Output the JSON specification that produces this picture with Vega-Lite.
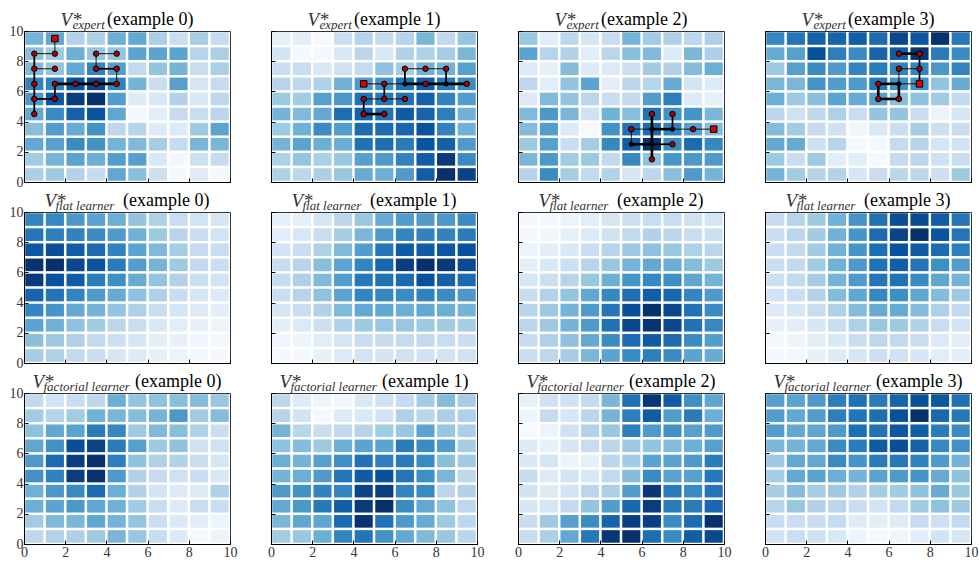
{"$schema":"https://vega.github.io/schema/vega-lite/v6.json","padding":{"left":8,"top":9,"right":0,"bottom":4},"background":"white","columns":4,"spacing":{"row":30,"column":41},"bounds":"flush","align":"all",
"config":{"view":{"stroke":"#333","strokeWidth":1},"title":{"font":"Liberation Serif","fontSize":18,"fontWeight":"normal","color":"#000","anchor":"start","frame":"group","offset":-19},"axis":{"grid":false,"domain":true,"domainColor":"#000","tickColor":"#000","tickSize":-4,"labelPadding":5,"labelFont":"Liberation Serif","labelFontSize":14,"labelColor":"#333","labelFlush":false,"labelOverlap":false,"titleFontWeight":"normal","titleFontStyle":"italic","titleFont":"Liberation Serif","titleColor":"#333","titlePadding":0,"titleAngle":0,"titleAlign":"left","titleBaseline":"alphabetic"},"rect":{"width":18.1,"height":12.6},"rule":{"color":"#000"},"point":{"filled":true,"stroke":"#000","strokeWidth":1,"opacity":1}},
"datasets":{
"p00":[{"x":0.5,"y":9.5,"v":3.8},{"x":1.5,"y":9.5,"v":4.2},{"x":2.5,"y":9.5,"v":2.5},{"x":3.5,"y":9.5,"v":2.6},{"x":4.5,"y":9.5,"v":4},{"x":5.5,"y":9.5,"v":4.2},{"x":6.5,"y":9.5,"v":2.7},{"x":7.5,"y":9.5,"v":1.8},{"x":8.5,"y":9.5,"v":2.8},{"x":9.5,"y":9.5,"v":2},{"x":0.5,"y":8.5,"v":3.4},{"x":1.5,"y":8.5,"v":3},{"x":2.5,"y":8.5,"v":4},{"x":3.5,"y":8.5,"v":3.2},{"x":4.5,"y":8.5,"v":3.2},{"x":5.5,"y":8.5,"v":4.4},{"x":6.5,"y":8.5,"v":4.4},{"x":7.5,"y":8.5,"v":4.4},{"x":8.5,"y":8.5,"v":2.4},{"x":9.5,"y":8.5,"v":2.7},{"x":0.5,"y":7.5,"v":3.6},{"x":1.5,"y":7.5,"v":3.2},{"x":2.5,"y":7.5,"v":4.2},{"x":3.5,"y":7.5,"v":5.5},{"x":4.5,"y":7.5,"v":4.6},{"x":5.5,"y":7.5,"v":2.1},{"x":6.5,"y":7.5,"v":3.2},{"x":7.5,"y":7.5,"v":3.8},{"x":8.5,"y":7.5,"v":1.9},{"x":9.5,"y":7.5,"v":2.7},{"x":0.5,"y":6.5,"v":5.5},{"x":1.5,"y":6.5,"v":5.5},{"x":2.5,"y":6.5,"v":7},{"x":3.5,"y":6.5,"v":7.3},{"x":4.5,"y":6.5,"v":5.5},{"x":5.5,"y":6.5,"v":3.8},{"x":6.5,"y":6.5,"v":1.8},{"x":7.5,"y":6.5,"v":4.5},{"x":8.5,"y":6.5,"v":1.3},{"x":9.5,"y":6.5,"v":2},{"x":0.5,"y":5.5,"v":4.8},{"x":1.5,"y":5.5,"v":6.8},{"x":2.5,"y":5.5,"v":7.6},{"x":3.5,"y":5.5,"v":8},{"x":4.5,"y":5.5,"v":4.6},{"x":5.5,"y":5.5,"v":1},{"x":6.5,"y":5.5,"v":1.2},{"x":7.5,"y":5.5,"v":2.5},{"x":8.5,"y":5.5,"v":1.2},{"x":9.5,"y":5.5,"v":2.2},{"x":0.5,"y":4.5,"v":4.2},{"x":1.5,"y":4.5,"v":5.2},{"x":2.5,"y":4.5,"v":6.5},{"x":3.5,"y":4.5,"v":6.9},{"x":4.5,"y":4.5,"v":4.3},{"x":5.5,"y":4.5,"v":0.2},{"x":6.5,"y":4.5,"v":0.9},{"x":7.5,"y":4.5,"v":2},{"x":8.5,"y":4.5,"v":1.9},{"x":9.5,"y":4.5,"v":2.3},{"x":0.5,"y":3.5,"v":3.4},{"x":1.5,"y":3.5,"v":4.6},{"x":2.5,"y":3.5,"v":4.1},{"x":3.5,"y":3.5,"v":5},{"x":4.5,"y":3.5,"v":2.2},{"x":5.5,"y":3.5,"v":2.4},{"x":6.5,"y":3.5,"v":1},{"x":7.5,"y":3.5,"v":1.1},{"x":8.5,"y":3.5,"v":3},{"x":9.5,"y":3.5,"v":4.4},{"x":0.5,"y":2.5,"v":4.2},{"x":1.5,"y":2.5,"v":4.5},{"x":2.5,"y":2.5,"v":5.2},{"x":3.5,"y":2.5,"v":5},{"x":4.5,"y":2.5,"v":3.8},{"x":5.5,"y":2.5,"v":3.6},{"x":6.5,"y":2.5,"v":2.8},{"x":7.5,"y":2.5,"v":2},{"x":8.5,"y":2.5,"v":3.7},{"x":9.5,"y":2.5,"v":3.7},{"x":0.5,"y":1.5,"v":2.9},{"x":1.5,"y":1.5,"v":3.8},{"x":2.5,"y":1.5,"v":4.4},{"x":3.5,"y":1.5,"v":4},{"x":4.5,"y":1.5,"v":4.6},{"x":5.5,"y":1.5,"v":4.5},{"x":6.5,"y":1.5,"v":1.2},{"x":7.5,"y":1.5,"v":0.2},{"x":8.5,"y":1.5,"v":1.7},{"x":9.5,"y":1.5,"v":2},{"x":0.5,"y":0.5,"v":2.7},{"x":1.5,"y":0.5,"v":3},{"x":2.5,"y":0.5,"v":2.5},{"x":3.5,"y":0.5,"v":2},{"x":4.5,"y":0.5,"v":4.3},{"x":5.5,"y":0.5,"v":3.4},{"x":6.5,"y":0.5,"v":1.7},{"x":7.5,"y":0.5,"v":0.1},{"x":8.5,"y":0.5,"v":1},{"x":9.5,"y":0.5,"v":0.1}],
"p01":[{"x":0.5,"y":9.5,"v":0.7},{"x":1.5,"y":9.5,"v":0.8},{"x":2.5,"y":9.5,"v":0.1},{"x":3.5,"y":9.5,"v":1.8},{"x":4.5,"y":9.5,"v":2.4},{"x":5.5,"y":9.5,"v":2},{"x":6.5,"y":9.5,"v":2.4},{"x":7.5,"y":9.5,"v":3.7},{"x":8.5,"y":9.5,"v":2.1},{"x":9.5,"y":9.5,"v":3.2},{"x":0.5,"y":8.5,"v":1.5},{"x":1.5,"y":8.5,"v":0.1},{"x":2.5,"y":8.5,"v":0.2},{"x":3.5,"y":8.5,"v":1.2},{"x":4.5,"y":8.5,"v":2.3},{"x":5.5,"y":8.5,"v":1.2},{"x":6.5,"y":8.5,"v":2.5},{"x":7.5,"y":8.5,"v":2.6},{"x":8.5,"y":8.5,"v":2.8},{"x":9.5,"y":8.5,"v":3.7},{"x":0.5,"y":7.5,"v":1.8},{"x":1.5,"y":7.5,"v":1.8},{"x":2.5,"y":7.5,"v":1.2},{"x":3.5,"y":7.5,"v":1.6},{"x":4.5,"y":7.5,"v":2},{"x":5.5,"y":7.5,"v":3.3},{"x":6.5,"y":7.5,"v":2.9},{"x":7.5,"y":7.5,"v":3.9},{"x":8.5,"y":7.5,"v":3.9},{"x":9.5,"y":7.5,"v":4.5},{"x":0.5,"y":6.5,"v":2.4},{"x":1.5,"y":6.5,"v":2.2},{"x":2.5,"y":6.5,"v":2.6},{"x":3.5,"y":6.5,"v":3.9},{"x":4.5,"y":6.5,"v":4.7},{"x":5.5,"y":6.5,"v":5},{"x":6.5,"y":6.5,"v":6},{"x":7.5,"y":6.5,"v":6.6},{"x":8.5,"y":6.5,"v":5.8},{"x":9.5,"y":6.5,"v":5.2},{"x":0.5,"y":5.5,"v":3},{"x":1.5,"y":5.5,"v":2.9},{"x":2.5,"y":5.5,"v":4.5},{"x":3.5,"y":5.5,"v":4.8},{"x":4.5,"y":5.5,"v":6},{"x":5.5,"y":5.5,"v":5.8},{"x":6.5,"y":5.5,"v":6},{"x":7.5,"y":5.5,"v":6.5},{"x":8.5,"y":5.5,"v":5.5},{"x":9.5,"y":5.5,"v":4.6},{"x":0.5,"y":4.5,"v":3.8},{"x":1.5,"y":4.5,"v":3.6},{"x":2.5,"y":4.5,"v":4.2},{"x":3.5,"y":4.5,"v":6.1},{"x":4.5,"y":4.5,"v":6.5},{"x":5.5,"y":4.5,"v":6},{"x":6.5,"y":4.5,"v":6.7},{"x":7.5,"y":4.5,"v":6.4},{"x":8.5,"y":4.5,"v":5.6},{"x":9.5,"y":4.5,"v":3.9},{"x":0.5,"y":3.5,"v":3},{"x":1.5,"y":3.5,"v":3.9},{"x":2.5,"y":3.5,"v":5.2},{"x":3.5,"y":3.5,"v":4.6},{"x":4.5,"y":3.5,"v":6.2},{"x":5.5,"y":3.5,"v":6.2},{"x":6.5,"y":3.5,"v":6.3},{"x":7.5,"y":3.5,"v":6.9},{"x":8.5,"y":3.5,"v":5.5},{"x":9.5,"y":3.5,"v":3.9},{"x":0.5,"y":2.5,"v":3.8},{"x":1.5,"y":2.5,"v":4.4},{"x":2.5,"y":2.5,"v":4},{"x":3.5,"y":2.5,"v":4},{"x":4.5,"y":2.5,"v":6},{"x":5.5,"y":2.5,"v":6.1},{"x":6.5,"y":2.5,"v":5.7},{"x":7.5,"y":2.5,"v":6.9},{"x":8.5,"y":2.5,"v":6.5},{"x":9.5,"y":2.5,"v":4.7},{"x":0.5,"y":1.5,"v":2.6},{"x":1.5,"y":1.5,"v":3.2},{"x":2.5,"y":1.5,"v":2.7},{"x":3.5,"y":1.5,"v":3.1},{"x":4.5,"y":1.5,"v":4.5},{"x":5.5,"y":1.5,"v":4.7},{"x":6.5,"y":1.5,"v":5.5},{"x":7.5,"y":1.5,"v":6.6},{"x":8.5,"y":1.5,"v":7.7},{"x":9.5,"y":1.5,"v":5.2},{"x":0.5,"y":0.5,"v":2.6},{"x":1.5,"y":0.5,"v":2.2},{"x":2.5,"y":0.5,"v":2.7},{"x":3.5,"y":0.5,"v":3.1},{"x":4.5,"y":0.5,"v":4.1},{"x":5.5,"y":0.5,"v":4},{"x":6.5,"y":0.5,"v":4.7},{"x":7.5,"y":0.5,"v":6.6},{"x":8.5,"y":0.5,"v":8},{"x":9.5,"y":0.5,"v":7.4}],
"p02":[{"x":0.5,"y":9.5,"v":3.1},{"x":1.5,"y":9.5,"v":0.9},{"x":2.5,"y":9.5,"v":2.2},{"x":3.5,"y":9.5,"v":1.3},{"x":4.5,"y":9.5,"v":1.9},{"x":5.5,"y":9.5,"v":3.8},{"x":6.5,"y":9.5,"v":2.9},{"x":7.5,"y":9.5,"v":2.6},{"x":8.5,"y":9.5,"v":2.2},{"x":9.5,"y":9.5,"v":2.6},{"x":0.5,"y":8.5,"v":4.4},{"x":1.5,"y":8.5,"v":2.4},{"x":2.5,"y":8.5,"v":2.5},{"x":3.5,"y":8.5,"v":0.9},{"x":4.5,"y":8.5,"v":2.3},{"x":5.5,"y":8.5,"v":3.4},{"x":6.5,"y":8.5,"v":3.6},{"x":7.5,"y":8.5,"v":1.1},{"x":8.5,"y":8.5,"v":3.7},{"x":9.5,"y":8.5,"v":2.7},{"x":0.5,"y":7.5,"v":1.1},{"x":1.5,"y":7.5,"v":0.7},{"x":2.5,"y":7.5,"v":3.5},{"x":3.5,"y":7.5,"v":1},{"x":4.5,"y":7.5,"v":1.1},{"x":5.5,"y":7.5,"v":1.7},{"x":6.5,"y":7.5,"v":2.9},{"x":7.5,"y":7.5,"v":2.5},{"x":8.5,"y":7.5,"v":3.5},{"x":9.5,"y":7.5,"v":4},{"x":0.5,"y":6.5,"v":2.2},{"x":1.5,"y":6.5,"v":0.9},{"x":2.5,"y":6.5,"v":3.2},{"x":3.5,"y":6.5,"v":4.4},{"x":4.5,"y":6.5,"v":0.8},{"x":5.5,"y":6.5,"v":2.3},{"x":6.5,"y":6.5,"v":2.4},{"x":7.5,"y":6.5,"v":4.1},{"x":8.5,"y":6.5,"v":1.5},{"x":9.5,"y":6.5,"v":1.1},{"x":0.5,"y":5.5,"v":1.1},{"x":1.5,"y":5.5,"v":3.6},{"x":2.5,"y":5.5,"v":3.2},{"x":3.5,"y":5.5,"v":2.3},{"x":4.5,"y":5.5,"v":1.8},{"x":5.5,"y":5.5,"v":2.1},{"x":6.5,"y":5.5,"v":4.6},{"x":7.5,"y":5.5,"v":5.6},{"x":8.5,"y":5.5,"v":1},{"x":9.5,"y":5.5,"v":0.7},{"x":0.5,"y":4.5,"v":3.6},{"x":1.5,"y":4.5,"v":4.8},{"x":2.5,"y":4.5,"v":3.7},{"x":3.5,"y":4.5,"v":1.6},{"x":4.5,"y":4.5,"v":3.9},{"x":5.5,"y":4.5,"v":3.4},{"x":6.5,"y":4.5,"v":6},{"x":7.5,"y":4.5,"v":5},{"x":8.5,"y":4.5,"v":4.9},{"x":9.5,"y":4.5,"v":3.7},{"x":0.5,"y":3.5,"v":3.5},{"x":1.5,"y":3.5,"v":4.6},{"x":2.5,"y":3.5,"v":1.1},{"x":3.5,"y":3.5,"v":0.1},{"x":4.5,"y":3.5,"v":5},{"x":5.5,"y":3.5,"v":6},{"x":6.5,"y":3.5,"v":6.2},{"x":7.5,"y":3.5,"v":5.5},{"x":8.5,"y":3.5,"v":4.5},{"x":9.5,"y":3.5,"v":3.5},{"x":0.5,"y":2.5,"v":3},{"x":1.5,"y":2.5,"v":4.5},{"x":2.5,"y":2.5,"v":1.9},{"x":3.5,"y":2.5,"v":2.8},{"x":4.5,"y":2.5,"v":5.3},{"x":5.5,"y":2.5,"v":6.6},{"x":6.5,"y":2.5,"v":8},{"x":7.5,"y":2.5,"v":5.2},{"x":8.5,"y":2.5,"v":6.2},{"x":9.5,"y":2.5,"v":5.3},{"x":0.5,"y":1.5,"v":3.7},{"x":1.5,"y":1.5,"v":4.8},{"x":2.5,"y":1.5,"v":2.9},{"x":3.5,"y":1.5,"v":3},{"x":4.5,"y":1.5,"v":2.1},{"x":5.5,"y":1.5,"v":5.3},{"x":6.5,"y":1.5,"v":3.3},{"x":7.5,"y":1.5,"v":4.9},{"x":8.5,"y":1.5,"v":4.8},{"x":9.5,"y":1.5,"v":4.7},{"x":0.5,"y":0.5,"v":2.4},{"x":1.5,"y":0.5,"v":5.2},{"x":2.5,"y":0.5,"v":2.8},{"x":3.5,"y":0.5,"v":2.1},{"x":4.5,"y":0.5,"v":2.5},{"x":5.5,"y":0.5,"v":1.3},{"x":6.5,"y":0.5,"v":2.2},{"x":7.5,"y":0.5,"v":3.4},{"x":8.5,"y":0.5,"v":4.7},{"x":9.5,"y":0.5,"v":3.8}],
"p03":[{"x":0.5,"y":9.5,"v":5.3},{"x":1.5,"y":9.5,"v":5.9},{"x":2.5,"y":9.5,"v":6.5},{"x":3.5,"y":9.5,"v":6.4},{"x":4.5,"y":9.5,"v":6.6},{"x":5.5,"y":9.5,"v":6.2},{"x":6.5,"y":9.5,"v":7.3},{"x":7.5,"y":9.5,"v":6.8},{"x":8.5,"y":9.5,"v":7.9},{"x":9.5,"y":9.5,"v":5.8},{"x":0.5,"y":8.5,"v":4.1},{"x":1.5,"y":8.5,"v":4.5},{"x":2.5,"y":8.5,"v":7},{"x":3.5,"y":8.5,"v":5.6},{"x":4.5,"y":8.5,"v":5.2},{"x":5.5,"y":8.5,"v":6.4},{"x":6.5,"y":8.5,"v":6.7},{"x":7.5,"y":8.5,"v":7.9},{"x":8.5,"y":8.5,"v":5.7},{"x":9.5,"y":8.5,"v":5.2},{"x":0.5,"y":7.5,"v":3},{"x":1.5,"y":7.5,"v":4.5},{"x":2.5,"y":7.5,"v":5.2},{"x":3.5,"y":7.5,"v":4.7},{"x":4.5,"y":7.5,"v":5.4},{"x":5.5,"y":7.5,"v":5.7},{"x":6.5,"y":7.5,"v":5.5},{"x":7.5,"y":7.5,"v":5.4},{"x":8.5,"y":7.5,"v":4.8},{"x":9.5,"y":7.5,"v":5.4},{"x":0.5,"y":6.5,"v":3.7},{"x":1.5,"y":6.5,"v":3.7},{"x":2.5,"y":6.5,"v":4.9},{"x":3.5,"y":6.5,"v":4.6},{"x":4.5,"y":6.5,"v":4.7},{"x":5.5,"y":6.5,"v":5.8},{"x":6.5,"y":6.5,"v":5},{"x":7.5,"y":6.5,"v":5},{"x":8.5,"y":6.5,"v":3.2},{"x":9.5,"y":6.5,"v":4.1},{"x":0.5,"y":5.5,"v":4},{"x":1.5,"y":5.5,"v":3},{"x":2.5,"y":5.5,"v":3.4},{"x":3.5,"y":5.5,"v":4.4},{"x":4.5,"y":5.5,"v":4.1},{"x":5.5,"y":5.5,"v":4.5},{"x":6.5,"y":5.5,"v":3.4},{"x":7.5,"y":5.5,"v":3.3},{"x":8.5,"y":5.5,"v":2.9},{"x":9.5,"y":5.5,"v":2.1},{"x":0.5,"y":4.5,"v":2.3},{"x":1.5,"y":4.5,"v":1.6},{"x":2.5,"y":4.5,"v":2.2},{"x":3.5,"y":4.5,"v":2.6},{"x":4.5,"y":4.5,"v":1.9},{"x":5.5,"y":4.5,"v":3.2},{"x":6.5,"y":4.5,"v":3.2},{"x":7.5,"y":4.5,"v":1.9},{"x":8.5,"y":4.5,"v":0.5},{"x":9.5,"y":4.5,"v":1.3},{"x":0.5,"y":3.5,"v":3.5},{"x":1.5,"y":3.5,"v":2.9},{"x":2.5,"y":3.5,"v":2},{"x":3.5,"y":3.5,"v":1.6},{"x":4.5,"y":3.5,"v":0.3},{"x":5.5,"y":3.5,"v":1.2},{"x":6.5,"y":3.5,"v":1.8},{"x":7.5,"y":3.5,"v":2.8},{"x":8.5,"y":3.5,"v":1.7},{"x":9.5,"y":3.5,"v":1.9},{"x":0.5,"y":2.5,"v":4.2},{"x":1.5,"y":2.5,"v":4.1},{"x":2.5,"y":2.5,"v":1.7},{"x":3.5,"y":2.5,"v":2.4},{"x":4.5,"y":2.5,"v":0.1},{"x":5.5,"y":2.5,"v":0.2},{"x":6.5,"y":2.5,"v":2},{"x":7.5,"y":2.5,"v":2.4},{"x":8.5,"y":2.5,"v":1.4},{"x":9.5,"y":2.5,"v":1.5},{"x":0.5,"y":1.5,"v":3},{"x":1.5,"y":1.5,"v":1.9},{"x":2.5,"y":1.5,"v":3},{"x":3.5,"y":1.5,"v":0.9},{"x":4.5,"y":1.5,"v":0.9},{"x":5.5,"y":1.5,"v":0.1},{"x":6.5,"y":1.5,"v":2},{"x":7.5,"y":1.5,"v":2.2},{"x":8.5,"y":1.5,"v":1.6},{"x":9.5,"y":1.5,"v":1.9},{"x":0.5,"y":0.5,"v":3.8},{"x":1.5,"y":0.5,"v":2.9},{"x":2.5,"y":0.5,"v":2.4},{"x":3.5,"y":0.5,"v":2.5},{"x":4.5,"y":0.5,"v":1.3},{"x":5.5,"y":0.5,"v":1.9},{"x":6.5,"y":0.5,"v":2.3},{"x":7.5,"y":0.5,"v":2.2},{"x":8.5,"y":0.5,"v":1.7},{"x":9.5,"y":0.5,"v":3}],
"p10":[{"x":0.5,"y":9.5,"v":5.4},{"x":1.5,"y":9.5,"v":5.3},{"x":2.5,"y":9.5,"v":4.8},{"x":3.5,"y":9.5,"v":4.4},{"x":4.5,"y":9.5,"v":4},{"x":5.5,"y":9.5,"v":3.2},{"x":6.5,"y":9.5,"v":2.6},{"x":7.5,"y":9.5,"v":1.9},{"x":8.5,"y":9.5,"v":1.5},{"x":9.5,"y":9.5,"v":1.4},{"x":0.5,"y":8.5,"v":5.9},{"x":1.5,"y":8.5,"v":5.6},{"x":2.5,"y":8.5,"v":5.5},{"x":3.5,"y":8.5,"v":5.2},{"x":4.5,"y":8.5,"v":4.7},{"x":5.5,"y":8.5,"v":3.9},{"x":6.5,"y":8.5,"v":3},{"x":7.5,"y":8.5,"v":2.4},{"x":8.5,"y":8.5,"v":1.9},{"x":9.5,"y":8.5,"v":1.5},{"x":0.5,"y":7.5,"v":6.8},{"x":1.5,"y":7.5,"v":7.1},{"x":2.5,"y":7.5,"v":6.6},{"x":3.5,"y":7.5,"v":6.2},{"x":4.5,"y":7.5,"v":5.5},{"x":5.5,"y":7.5,"v":4.4},{"x":6.5,"y":7.5,"v":3.6},{"x":7.5,"y":7.5,"v":2.8},{"x":8.5,"y":7.5,"v":2},{"x":9.5,"y":7.5,"v":1.9},{"x":0.5,"y":6.5,"v":7.9},{"x":1.5,"y":6.5,"v":8},{"x":2.5,"y":6.5,"v":7.3},{"x":3.5,"y":6.5,"v":6.9},{"x":4.5,"y":6.5,"v":5.7},{"x":5.5,"y":6.5,"v":4.6},{"x":6.5,"y":6.5,"v":3.8},{"x":7.5,"y":6.5,"v":3},{"x":8.5,"y":6.5,"v":2.1},{"x":9.5,"y":6.5,"v":1.8},{"x":0.5,"y":5.5,"v":7.7},{"x":1.5,"y":5.5,"v":7},{"x":2.5,"y":5.5,"v":6.7},{"x":3.5,"y":5.5,"v":5.7},{"x":4.5,"y":5.5,"v":5.1},{"x":5.5,"y":5.5,"v":4.1},{"x":6.5,"y":5.5,"v":3.2},{"x":7.5,"y":5.5,"v":2.5},{"x":8.5,"y":5.5,"v":1.8},{"x":9.5,"y":5.5,"v":1.5},{"x":0.5,"y":4.5,"v":6.4},{"x":1.5,"y":4.5,"v":5.9},{"x":2.5,"y":4.5,"v":5.4},{"x":3.5,"y":4.5,"v":4.7},{"x":4.5,"y":4.5,"v":4.1},{"x":5.5,"y":4.5,"v":3.3},{"x":6.5,"y":4.5,"v":2.6},{"x":7.5,"y":4.5,"v":1.9},{"x":8.5,"y":4.5,"v":1.4},{"x":9.5,"y":4.5,"v":1.1},{"x":0.5,"y":3.5,"v":5.4},{"x":1.5,"y":3.5,"v":4.9},{"x":2.5,"y":3.5,"v":4.2},{"x":3.5,"y":3.5,"v":3.8},{"x":4.5,"y":3.5,"v":3.2},{"x":5.5,"y":3.5,"v":2.6},{"x":6.5,"y":3.5,"v":1.9},{"x":7.5,"y":3.5,"v":1.4},{"x":8.5,"y":3.5,"v":1},{"x":9.5,"y":3.5,"v":0.8},{"x":0.5,"y":2.5,"v":4.4},{"x":1.5,"y":2.5,"v":3.9},{"x":2.5,"y":2.5,"v":3.3},{"x":3.5,"y":2.5,"v":2.9},{"x":4.5,"y":2.5,"v":2.3},{"x":5.5,"y":2.5,"v":1.9},{"x":6.5,"y":2.5,"v":1.2},{"x":7.5,"y":2.5,"v":0.9},{"x":8.5,"y":2.5,"v":0.6},{"x":9.5,"y":2.5,"v":0.4},{"x":0.5,"y":1.5,"v":3.4},{"x":1.5,"y":1.5,"v":3},{"x":2.5,"y":1.5,"v":2.6},{"x":3.5,"y":1.5,"v":2.1},{"x":4.5,"y":1.5,"v":1.7},{"x":5.5,"y":1.5,"v":1.3},{"x":6.5,"y":1.5,"v":0.8},{"x":7.5,"y":1.5,"v":0.6},{"x":8.5,"y":1.5,"v":0.3},{"x":9.5,"y":1.5,"v":0.2},{"x":0.5,"y":0.5,"v":2.8},{"x":1.5,"y":0.5,"v":2.6},{"x":2.5,"y":0.5,"v":2.1},{"x":3.5,"y":0.5,"v":1.8},{"x":4.5,"y":0.5,"v":1.3},{"x":5.5,"y":0.5,"v":1},{"x":6.5,"y":0.5,"v":0.6},{"x":7.5,"y":0.5,"v":0.5},{"x":8.5,"y":0.5,"v":0.2},{"x":9.5,"y":0.5,"v":0.1}],
"p11":[{"x":0.5,"y":9.5,"v":0.7},{"x":1.5,"y":9.5,"v":0.7},{"x":2.5,"y":9.5,"v":1.4},{"x":3.5,"y":9.5,"v":2.3},{"x":4.5,"y":9.5,"v":3.1},{"x":5.5,"y":9.5,"v":4.1},{"x":6.5,"y":9.5,"v":4.6},{"x":7.5,"y":9.5,"v":4.7},{"x":8.5,"y":9.5,"v":4.8},{"x":9.5,"y":9.5,"v":5.2},{"x":0.5,"y":8.5,"v":0.9},{"x":1.5,"y":8.5,"v":1.2},{"x":2.5,"y":8.5,"v":1.9},{"x":3.5,"y":8.5,"v":2.8},{"x":4.5,"y":8.5,"v":3.7},{"x":5.5,"y":8.5,"v":4.7},{"x":6.5,"y":8.5,"v":5.4},{"x":7.5,"y":8.5,"v":5.5},{"x":8.5,"y":8.5,"v":5.5},{"x":9.5,"y":8.5,"v":5.7},{"x":0.5,"y":7.5,"v":1.5},{"x":1.5,"y":7.5,"v":1.8},{"x":2.5,"y":7.5,"v":2.6},{"x":3.5,"y":7.5,"v":3.6},{"x":4.5,"y":7.5,"v":4.6},{"x":5.5,"y":7.5,"v":5.9},{"x":6.5,"y":7.5,"v":6.7},{"x":7.5,"y":7.5,"v":6.7},{"x":8.5,"y":7.5,"v":6.8},{"x":9.5,"y":7.5,"v":7},{"x":0.5,"y":6.5,"v":1.9},{"x":1.5,"y":6.5,"v":2.4},{"x":2.5,"y":6.5,"v":3.4},{"x":3.5,"y":6.5,"v":4.4},{"x":4.5,"y":6.5,"v":5.4},{"x":5.5,"y":6.5,"v":6.3},{"x":6.5,"y":6.5,"v":7.6},{"x":7.5,"y":6.5,"v":8},{"x":8.5,"y":6.5,"v":7.7},{"x":9.5,"y":6.5,"v":7.2},{"x":0.5,"y":5.5,"v":2},{"x":1.5,"y":5.5,"v":2.6},{"x":2.5,"y":5.5,"v":3.6},{"x":3.5,"y":5.5,"v":4.6},{"x":4.5,"y":5.5,"v":5.8},{"x":5.5,"y":5.5,"v":6},{"x":6.5,"y":5.5,"v":6.2},{"x":7.5,"y":5.5,"v":7},{"x":8.5,"y":5.5,"v":6.5},{"x":9.5,"y":5.5,"v":6.2},{"x":0.5,"y":4.5,"v":1.8},{"x":1.5,"y":4.5,"v":2.4},{"x":2.5,"y":4.5,"v":3.3},{"x":3.5,"y":4.5,"v":4.4},{"x":4.5,"y":4.5,"v":5.4},{"x":5.5,"y":4.5,"v":5.3},{"x":6.5,"y":4.5,"v":5.2},{"x":7.5,"y":4.5,"v":5.5},{"x":8.5,"y":4.5,"v":5.2},{"x":9.5,"y":4.5,"v":4.8},{"x":0.5,"y":3.5,"v":1.4},{"x":1.5,"y":3.5,"v":1.8},{"x":2.5,"y":3.5,"v":2.5},{"x":3.5,"y":3.5,"v":3.6},{"x":4.5,"y":3.5,"v":4.2},{"x":5.5,"y":3.5,"v":4.3},{"x":6.5,"y":3.5,"v":4},{"x":7.5,"y":3.5,"v":4.2},{"x":8.5,"y":3.5,"v":4},{"x":9.5,"y":3.5,"v":3.8},{"x":0.5,"y":2.5,"v":0.8},{"x":1.5,"y":2.5,"v":1.1},{"x":2.5,"y":2.5,"v":1.7},{"x":3.5,"y":2.5,"v":2.5},{"x":4.5,"y":2.5,"v":3},{"x":5.5,"y":2.5,"v":3.1},{"x":6.5,"y":2.5,"v":3.1},{"x":7.5,"y":2.5,"v":3},{"x":8.5,"y":2.5,"v":2.9},{"x":9.5,"y":2.5,"v":2.8},{"x":0.5,"y":1.5,"v":0.3},{"x":1.5,"y":1.5,"v":0.4},{"x":2.5,"y":1.5,"v":0.9},{"x":3.5,"y":1.5,"v":1.4},{"x":4.5,"y":1.5,"v":1.9},{"x":5.5,"y":1.5,"v":2},{"x":6.5,"y":1.5,"v":2},{"x":7.5,"y":1.5,"v":2.1},{"x":8.5,"y":1.5,"v":1.9},{"x":9.5,"y":1.5,"v":1.8},{"x":0.5,"y":0.5,"v":0.1},{"x":1.5,"y":0.5,"v":0.1},{"x":2.5,"y":0.5,"v":0.6},{"x":3.5,"y":0.5,"v":1.1},{"x":4.5,"y":0.5,"v":1.5},{"x":5.5,"y":0.5,"v":1.5},{"x":6.5,"y":0.5,"v":1.6},{"x":7.5,"y":0.5,"v":1.6},{"x":8.5,"y":0.5,"v":1.5},{"x":9.5,"y":0.5,"v":1.6}],
"p12":[{"x":0.5,"y":9.5,"v":0.1},{"x":1.5,"y":9.5,"v":0.2},{"x":2.5,"y":9.5,"v":0.5},{"x":3.5,"y":9.5,"v":0.9},{"x":4.5,"y":9.5,"v":1.4},{"x":5.5,"y":9.5,"v":1.7},{"x":6.5,"y":9.5,"v":1.9},{"x":7.5,"y":9.5,"v":1.9},{"x":8.5,"y":9.5,"v":1.6},{"x":9.5,"y":9.5,"v":1.4},{"x":0.5,"y":8.5,"v":0.1},{"x":1.5,"y":8.5,"v":0.3},{"x":2.5,"y":8.5,"v":0.7},{"x":3.5,"y":8.5,"v":1.1},{"x":4.5,"y":8.5,"v":1.6},{"x":5.5,"y":8.5,"v":2.1},{"x":6.5,"y":8.5,"v":2.5},{"x":7.5,"y":8.5,"v":2.3},{"x":8.5,"y":8.5,"v":1.9},{"x":9.5,"y":8.5,"v":1.7},{"x":0.5,"y":7.5,"v":0.5},{"x":1.5,"y":7.5,"v":0.8},{"x":2.5,"y":7.5,"v":1.2},{"x":3.5,"y":7.5,"v":1.8},{"x":4.5,"y":7.5,"v":2.4},{"x":5.5,"y":7.5,"v":3},{"x":6.5,"y":7.5,"v":3.3},{"x":7.5,"y":7.5,"v":3.1},{"x":8.5,"y":7.5,"v":2.6},{"x":9.5,"y":7.5,"v":2.3},{"x":0.5,"y":6.5,"v":0.8},{"x":1.5,"y":6.5,"v":1.2},{"x":2.5,"y":6.5,"v":1.7},{"x":3.5,"y":6.5,"v":2.4},{"x":4.5,"y":6.5,"v":3.1},{"x":5.5,"y":6.5,"v":3.8},{"x":6.5,"y":6.5,"v":4.2},{"x":7.5,"y":6.5,"v":4},{"x":8.5,"y":6.5,"v":3.5},{"x":9.5,"y":6.5,"v":3},{"x":0.5,"y":5.5,"v":1.3},{"x":1.5,"y":5.5,"v":1.7},{"x":2.5,"y":5.5,"v":2.4},{"x":3.5,"y":5.5,"v":3.1},{"x":4.5,"y":5.5,"v":4},{"x":5.5,"y":5.5,"v":4.9},{"x":6.5,"y":5.5,"v":5.3},{"x":7.5,"y":5.5,"v":5.1},{"x":8.5,"y":5.5,"v":4.3},{"x":9.5,"y":5.5,"v":3.8},{"x":0.5,"y":4.5,"v":1.9},{"x":1.5,"y":4.5,"v":2.5},{"x":2.5,"y":4.5,"v":3.2},{"x":3.5,"y":4.5,"v":4.2},{"x":4.5,"y":4.5,"v":5.3},{"x":5.5,"y":4.5,"v":6.1},{"x":6.5,"y":4.5,"v":6.6},{"x":7.5,"y":4.5,"v":6.3},{"x":8.5,"y":4.5,"v":5.4},{"x":9.5,"y":4.5,"v":4.7},{"x":0.5,"y":3.5,"v":2.4},{"x":1.5,"y":3.5,"v":3},{"x":2.5,"y":3.5,"v":3.8},{"x":3.5,"y":3.5,"v":4.7},{"x":4.5,"y":3.5,"v":5.9},{"x":5.5,"y":3.5,"v":7.1},{"x":6.5,"y":3.5,"v":8},{"x":7.5,"y":3.5,"v":7.3},{"x":8.5,"y":3.5,"v":6},{"x":9.5,"y":3.5,"v":5.2},{"x":0.5,"y":2.5,"v":2.3},{"x":1.5,"y":2.5,"v":3},{"x":2.5,"y":2.5,"v":3.8},{"x":3.5,"y":2.5,"v":4.7},{"x":4.5,"y":2.5,"v":6},{"x":5.5,"y":2.5,"v":7.3},{"x":6.5,"y":2.5,"v":7.9},{"x":7.5,"y":2.5,"v":7.3},{"x":8.5,"y":2.5,"v":6},{"x":9.5,"y":2.5,"v":5.3},{"x":0.5,"y":1.5,"v":2},{"x":1.5,"y":1.5,"v":2.6},{"x":2.5,"y":1.5,"v":3.3},{"x":3.5,"y":1.5,"v":4.2},{"x":4.5,"y":1.5,"v":5.2},{"x":5.5,"y":1.5,"v":6.2},{"x":6.5,"y":1.5,"v":6.7},{"x":7.5,"y":1.5,"v":6.2},{"x":8.5,"y":1.5,"v":5.2},{"x":9.5,"y":1.5,"v":4.6},{"x":0.5,"y":0.5,"v":1.9},{"x":1.5,"y":0.5,"v":2.2},{"x":2.5,"y":0.5,"v":2.8},{"x":3.5,"y":0.5,"v":3.7},{"x":4.5,"y":0.5,"v":4.4},{"x":5.5,"y":0.5,"v":5.2},{"x":6.5,"y":0.5,"v":5.6},{"x":7.5,"y":0.5,"v":5.2},{"x":8.5,"y":0.5,"v":4.4},{"x":9.5,"y":0.5,"v":4.1}],
"p13":[{"x":0.5,"y":9.5,"v":2},{"x":1.5,"y":9.5,"v":2.4},{"x":2.5,"y":9.5,"v":3},{"x":3.5,"y":9.5,"v":3.9},{"x":4.5,"y":9.5,"v":4.9},{"x":5.5,"y":9.5,"v":6},{"x":6.5,"y":9.5,"v":7.1},{"x":7.5,"y":9.5,"v":7.2},{"x":8.5,"y":9.5,"v":6.6},{"x":9.5,"y":9.5,"v":5.9},{"x":0.5,"y":8.5,"v":1.8},{"x":1.5,"y":8.5,"v":2.3},{"x":2.5,"y":8.5,"v":2.9},{"x":3.5,"y":8.5,"v":3.9},{"x":4.5,"y":8.5,"v":4.9},{"x":5.5,"y":8.5,"v":6.2},{"x":6.5,"y":8.5,"v":7.4},{"x":7.5,"y":8.5,"v":8},{"x":8.5,"y":8.5,"v":6.9},{"x":9.5,"y":8.5,"v":5.9},{"x":0.5,"y":7.5,"v":1.8},{"x":1.5,"y":7.5,"v":2.1},{"x":2.5,"y":7.5,"v":2.9},{"x":3.5,"y":7.5,"v":3.9},{"x":4.5,"y":7.5,"v":4.9},{"x":5.5,"y":7.5,"v":6.1},{"x":6.5,"y":7.5,"v":7},{"x":7.5,"y":7.5,"v":6.7},{"x":8.5,"y":7.5,"v":6.2},{"x":9.5,"y":7.5,"v":5.6},{"x":0.5,"y":6.5,"v":1.8},{"x":1.5,"y":6.5,"v":2.1},{"x":2.5,"y":6.5,"v":2.9},{"x":3.5,"y":6.5,"v":3.9},{"x":4.5,"y":6.5,"v":4.8},{"x":5.5,"y":6.5,"v":6},{"x":6.5,"y":6.5,"v":6.6},{"x":7.5,"y":6.5,"v":5.9},{"x":8.5,"y":6.5,"v":5.1},{"x":9.5,"y":6.5,"v":4.6},{"x":0.5,"y":5.5,"v":1.7},{"x":1.5,"y":5.5,"v":2.1},{"x":2.5,"y":5.5,"v":2.8},{"x":3.5,"y":5.5,"v":3.8},{"x":4.5,"y":5.5,"v":4.7},{"x":5.5,"y":5.5,"v":5.9},{"x":6.5,"y":5.5,"v":6},{"x":7.5,"y":5.5,"v":5.2},{"x":8.5,"y":5.5,"v":4.3},{"x":9.5,"y":5.5,"v":3.8},{"x":0.5,"y":4.5,"v":1.5},{"x":1.5,"y":4.5,"v":1.8},{"x":2.5,"y":4.5,"v":2.5},{"x":3.5,"y":4.5,"v":3.5},{"x":4.5,"y":4.5,"v":4.3},{"x":5.5,"y":4.5,"v":5.3},{"x":6.5,"y":4.5,"v":5.1},{"x":7.5,"y":4.5,"v":4.3},{"x":8.5,"y":4.5,"v":3.5},{"x":9.5,"y":4.5,"v":3},{"x":0.5,"y":3.5,"v":1},{"x":1.5,"y":3.5,"v":1.3},{"x":2.5,"y":3.5,"v":1.9},{"x":3.5,"y":3.5,"v":2.6},{"x":4.5,"y":3.5,"v":3.5},{"x":5.5,"y":3.5,"v":4.1},{"x":6.5,"y":3.5,"v":4.1},{"x":7.5,"y":3.5,"v":3.5},{"x":8.5,"y":3.5,"v":2.6},{"x":9.5,"y":3.5,"v":2.1},{"x":0.5,"y":2.5,"v":0.6},{"x":1.5,"y":2.5,"v":0.8},{"x":2.5,"y":2.5,"v":1.3},{"x":3.5,"y":2.5,"v":1.9},{"x":4.5,"y":2.5,"v":2.6},{"x":5.5,"y":2.5,"v":3.1},{"x":6.5,"y":2.5,"v":3},{"x":7.5,"y":2.5,"v":2.5},{"x":8.5,"y":2.5,"v":1.9},{"x":9.5,"y":2.5,"v":1.5},{"x":0.5,"y":1.5,"v":0.2},{"x":1.5,"y":1.5,"v":0.4},{"x":2.5,"y":1.5,"v":0.8},{"x":3.5,"y":1.5,"v":1.2},{"x":4.5,"y":1.5,"v":1.8},{"x":5.5,"y":1.5,"v":2.2},{"x":6.5,"y":1.5,"v":2.1},{"x":7.5,"y":1.5,"v":1.8},{"x":8.5,"y":1.5,"v":1.1},{"x":9.5,"y":1.5,"v":0.9},{"x":0.5,"y":0.5,"v":0.1},{"x":1.5,"y":0.5,"v":0.2},{"x":2.5,"y":0.5,"v":0.6},{"x":3.5,"y":0.5,"v":1},{"x":4.5,"y":0.5,"v":1.4},{"x":5.5,"y":0.5,"v":1.7},{"x":6.5,"y":0.5,"v":1.6},{"x":7.5,"y":0.5,"v":1.3},{"x":8.5,"y":0.5,"v":0.9},{"x":9.5,"y":0.5,"v":0.8}],
"p20":[{"x":0.5,"y":9.5,"v":2.1},{"x":1.5,"y":9.5,"v":1.5},{"x":2.5,"y":9.5,"v":1.9},{"x":3.5,"y":9.5,"v":2.2},{"x":4.5,"y":9.5,"v":4},{"x":5.5,"y":9.5,"v":3.2},{"x":6.5,"y":9.5,"v":3.3},{"x":7.5,"y":9.5,"v":3.4},{"x":8.5,"y":9.5,"v":3.5},{"x":9.5,"y":9.5,"v":3.1},{"x":0.5,"y":8.5,"v":2.9},{"x":1.5,"y":8.5,"v":2.4},{"x":2.5,"y":8.5,"v":2.9},{"x":3.5,"y":8.5,"v":3.9},{"x":4.5,"y":8.5,"v":3.7},{"x":5.5,"y":8.5,"v":3.5},{"x":6.5,"y":8.5,"v":3.8},{"x":7.5,"y":8.5,"v":4.8},{"x":8.5,"y":8.5,"v":2.9},{"x":9.5,"y":8.5,"v":3.5},{"x":0.5,"y":7.5,"v":3.3},{"x":1.5,"y":7.5,"v":4.2},{"x":2.5,"y":7.5,"v":4.4},{"x":3.5,"y":7.5,"v":5.7},{"x":4.5,"y":7.5,"v":5.3},{"x":5.5,"y":7.5,"v":3},{"x":6.5,"y":7.5,"v":3.6},{"x":7.5,"y":7.5,"v":3.4},{"x":8.5,"y":7.5,"v":2.6},{"x":9.5,"y":7.5,"v":1.8},{"x":0.5,"y":6.5,"v":4.3},{"x":1.5,"y":6.5,"v":5},{"x":2.5,"y":6.5,"v":7.1},{"x":3.5,"y":6.5,"v":7.4},{"x":4.5,"y":6.5,"v":5.7},{"x":5.5,"y":6.5,"v":4.5},{"x":6.5,"y":6.5,"v":3},{"x":7.5,"y":6.5,"v":3.3},{"x":8.5,"y":6.5,"v":1.6},{"x":9.5,"y":6.5,"v":1.6},{"x":0.5,"y":5.5,"v":4.7},{"x":1.5,"y":5.5,"v":6.2},{"x":2.5,"y":5.5,"v":7.6},{"x":3.5,"y":5.5,"v":8},{"x":4.5,"y":5.5,"v":5.6},{"x":5.5,"y":5.5,"v":3.3},{"x":6.5,"y":5.5,"v":2.6},{"x":7.5,"y":5.5,"v":2.5},{"x":8.5,"y":5.5,"v":1.8},{"x":9.5,"y":5.5,"v":1.4},{"x":0.5,"y":4.5,"v":5},{"x":1.5,"y":4.5,"v":5.5},{"x":2.5,"y":4.5,"v":7.6},{"x":3.5,"y":4.5,"v":7.9},{"x":4.5,"y":4.5,"v":4.7},{"x":5.5,"y":4.5,"v":2.5},{"x":6.5,"y":4.5,"v":2},{"x":7.5,"y":4.5,"v":1.6},{"x":8.5,"y":4.5,"v":1.8},{"x":9.5,"y":4.5,"v":1.2},{"x":0.5,"y":3.5,"v":3.9},{"x":1.5,"y":3.5,"v":4.8},{"x":2.5,"y":3.5,"v":5.2},{"x":3.5,"y":3.5,"v":6.2},{"x":4.5,"y":3.5,"v":4},{"x":5.5,"y":3.5,"v":2.5},{"x":6.5,"y":3.5,"v":1.5},{"x":7.5,"y":3.5,"v":1},{"x":8.5,"y":3.5,"v":1.1},{"x":9.5,"y":3.5,"v":2.6},{"x":0.5,"y":2.5,"v":4},{"x":1.5,"y":2.5,"v":4.4},{"x":2.5,"y":2.5,"v":4.8},{"x":3.5,"y":2.5,"v":4.3},{"x":4.5,"y":2.5,"v":3.9},{"x":5.5,"y":2.5,"v":2.9},{"x":6.5,"y":2.5,"v":1.9},{"x":7.5,"y":2.5,"v":1},{"x":8.5,"y":2.5,"v":1.9},{"x":9.5,"y":2.5,"v":1.8},{"x":0.5,"y":1.5,"v":2.9},{"x":1.5,"y":1.5,"v":3.6},{"x":2.5,"y":1.5,"v":3.7},{"x":3.5,"y":1.5,"v":4.3},{"x":4.5,"y":1.5,"v":3.8},{"x":5.5,"y":1.5,"v":3.2},{"x":6.5,"y":1.5,"v":1.8},{"x":7.5,"y":1.5,"v":1.1},{"x":8.5,"y":1.5,"v":0.9},{"x":9.5,"y":1.5,"v":0.4},{"x":0.5,"y":0.5,"v":2.2},{"x":1.5,"y":0.5,"v":2.5},{"x":2.5,"y":0.5,"v":2.6},{"x":3.5,"y":0.5,"v":3},{"x":4.5,"y":0.5,"v":3.7},{"x":5.5,"y":0.5,"v":3.1},{"x":6.5,"y":0.5,"v":1.9},{"x":7.5,"y":0.5,"v":1.1},{"x":8.5,"y":0.5,"v":0.1},{"x":9.5,"y":0.5,"v":0.5}],
"p21":[{"x":0.5,"y":9.5,"v":2.2},{"x":1.5,"y":9.5,"v":1},{"x":2.5,"y":9.5,"v":0.4},{"x":3.5,"y":9.5,"v":0.3},{"x":4.5,"y":9.5,"v":1.2},{"x":5.5,"y":9.5,"v":1.6},{"x":6.5,"y":9.5,"v":2},{"x":7.5,"y":9.5,"v":2.9},{"x":8.5,"y":9.5,"v":3.5},{"x":9.5,"y":9.5,"v":2.8},{"x":0.5,"y":8.5,"v":2.4},{"x":1.5,"y":8.5,"v":1.5},{"x":2.5,"y":8.5,"v":0.1},{"x":3.5,"y":8.5,"v":1},{"x":4.5,"y":8.5,"v":1.2},{"x":5.5,"y":8.5,"v":1.5},{"x":6.5,"y":8.5,"v":2.6},{"x":7.5,"y":8.5,"v":2.3},{"x":8.5,"y":8.5,"v":2.7},{"x":9.5,"y":8.5,"v":2.6},{"x":0.5,"y":7.5,"v":3.8},{"x":1.5,"y":7.5,"v":2.3},{"x":2.5,"y":7.5,"v":1.9},{"x":3.5,"y":7.5,"v":2.1},{"x":4.5,"y":7.5,"v":2.4},{"x":5.5,"y":7.5,"v":2.9},{"x":6.5,"y":7.5,"v":3.1},{"x":7.5,"y":7.5,"v":4.4},{"x":8.5,"y":7.5,"v":3.1},{"x":9.5,"y":7.5,"v":2.7},{"x":0.5,"y":6.5,"v":3.3},{"x":1.5,"y":6.5,"v":3.5},{"x":2.5,"y":6.5,"v":3},{"x":3.5,"y":6.5,"v":4},{"x":4.5,"y":6.5,"v":4.4},{"x":5.5,"y":6.5,"v":4.4},{"x":6.5,"y":6.5,"v":5.7},{"x":7.5,"y":6.5,"v":5.2},{"x":8.5,"y":6.5,"v":4.7},{"x":9.5,"y":6.5,"v":2.8},{"x":0.5,"y":5.5,"v":4},{"x":1.5,"y":5.5,"v":3.8},{"x":2.5,"y":5.5,"v":4.5},{"x":3.5,"y":5.5,"v":5.1},{"x":4.5,"y":5.5,"v":6},{"x":5.5,"y":5.5,"v":5.6},{"x":6.5,"y":5.5,"v":5.7},{"x":7.5,"y":5.5,"v":5.2},{"x":8.5,"y":5.5,"v":3.4},{"x":9.5,"y":5.5,"v":2.9},{"x":0.5,"y":4.5,"v":3.8},{"x":1.5,"y":4.5,"v":4},{"x":2.5,"y":4.5,"v":4.7},{"x":3.5,"y":4.5,"v":5.9},{"x":4.5,"y":4.5,"v":6.7},{"x":5.5,"y":4.5,"v":7},{"x":6.5,"y":4.5,"v":5.9},{"x":7.5,"y":4.5,"v":5.1},{"x":8.5,"y":4.5,"v":3.7},{"x":9.5,"y":4.5,"v":2.2},{"x":0.5,"y":3.5,"v":4.7},{"x":1.5,"y":3.5,"v":5},{"x":2.5,"y":3.5,"v":5.5},{"x":3.5,"y":3.5,"v":5.4},{"x":4.5,"y":3.5,"v":7.4},{"x":5.5,"y":3.5,"v":7.6},{"x":6.5,"y":3.5,"v":5.4},{"x":7.5,"y":3.5,"v":5.2},{"x":8.5,"y":3.5,"v":2.3},{"x":9.5,"y":3.5,"v":2.5},{"x":0.5,"y":2.5,"v":4.2},{"x":1.5,"y":2.5,"v":4.8},{"x":2.5,"y":2.5,"v":5.8},{"x":3.5,"y":2.5,"v":6.6},{"x":4.5,"y":2.5,"v":7.7},{"x":5.5,"y":2.5,"v":8},{"x":6.5,"y":2.5,"v":5.2},{"x":7.5,"y":2.5,"v":4.2},{"x":8.5,"y":2.5,"v":3.3},{"x":9.5,"y":2.5,"v":2.2},{"x":0.5,"y":1.5,"v":3.7},{"x":1.5,"y":1.5,"v":4.3},{"x":2.5,"y":1.5,"v":4.3},{"x":3.5,"y":1.5,"v":6.2},{"x":4.5,"y":1.5,"v":7.9},{"x":5.5,"y":1.5,"v":6},{"x":6.5,"y":1.5,"v":4.7},{"x":7.5,"y":1.5,"v":4.1},{"x":8.5,"y":1.5,"v":3},{"x":9.5,"y":1.5,"v":2.2},{"x":0.5,"y":0.5,"v":2.9},{"x":1.5,"y":0.5,"v":3.1},{"x":2.5,"y":0.5,"v":4},{"x":3.5,"y":0.5,"v":5.4},{"x":4.5,"y":0.5,"v":5.9},{"x":5.5,"y":0.5,"v":5},{"x":6.5,"y":0.5,"v":4.2},{"x":7.5,"y":0.5,"v":3.6},{"x":8.5,"y":0.5,"v":3.1},{"x":9.5,"y":0.5,"v":2.3}],
"p22":[{"x":0.5,"y":9.5,"v":0.7},{"x":1.5,"y":9.5,"v":1.6},{"x":2.5,"y":9.5,"v":1.6},{"x":3.5,"y":9.5,"v":2},{"x":4.5,"y":9.5,"v":3.7},{"x":5.5,"y":9.5,"v":6},{"x":6.5,"y":9.5,"v":7.8},{"x":7.5,"y":9.5,"v":6.7},{"x":8.5,"y":9.5,"v":5.1},{"x":9.5,"y":9.5,"v":4.3},{"x":0.5,"y":8.5,"v":0.4},{"x":1.5,"y":8.5,"v":2},{"x":2.5,"y":8.5,"v":1.3},{"x":3.5,"y":8.5,"v":2.3},{"x":4.5,"y":8.5,"v":3.8},{"x":5.5,"y":8.5,"v":5.6},{"x":6.5,"y":8.5,"v":6.7},{"x":7.5,"y":8.5,"v":4.6},{"x":8.5,"y":8.5,"v":5.7},{"x":9.5,"y":8.5,"v":4},{"x":0.5,"y":7.5,"v":0.1},{"x":1.5,"y":7.5,"v":0.5},{"x":2.5,"y":7.5,"v":1.6},{"x":3.5,"y":7.5,"v":2.5},{"x":4.5,"y":7.5,"v":3.1},{"x":5.5,"y":7.5,"v":5.6},{"x":6.5,"y":7.5,"v":4.7},{"x":7.5,"y":7.5,"v":5},{"x":8.5,"y":7.5,"v":4.5},{"x":9.5,"y":7.5,"v":4.7},{"x":0.5,"y":6.5,"v":1},{"x":1.5,"y":6.5,"v":0.6},{"x":2.5,"y":6.5,"v":1.3},{"x":3.5,"y":6.5,"v":1.9},{"x":4.5,"y":6.5,"v":2.3},{"x":5.5,"y":6.5,"v":3},{"x":6.5,"y":6.5,"v":3.2},{"x":7.5,"y":6.5,"v":3.5},{"x":8.5,"y":6.5,"v":4},{"x":9.5,"y":6.5,"v":4.5},{"x":0.5,"y":5.5,"v":1.2},{"x":1.5,"y":5.5,"v":1.4},{"x":2.5,"y":5.5,"v":0.4},{"x":3.5,"y":5.5,"v":0.7},{"x":4.5,"y":5.5,"v":2.3},{"x":5.5,"y":5.5,"v":2.9},{"x":6.5,"y":5.5,"v":4.4},{"x":7.5,"y":5.5,"v":4.4},{"x":8.5,"y":5.5,"v":4.7},{"x":9.5,"y":5.5,"v":5.7},{"x":0.5,"y":4.5,"v":2},{"x":1.5,"y":4.5,"v":1},{"x":2.5,"y":4.5,"v":1.5},{"x":3.5,"y":4.5,"v":1.2},{"x":4.5,"y":4.5,"v":2.1},{"x":5.5,"y":4.5,"v":3.5},{"x":6.5,"y":4.5,"v":5.2},{"x":7.5,"y":4.5,"v":4.4},{"x":8.5,"y":4.5,"v":4.5},{"x":9.5,"y":4.5,"v":5.8},{"x":0.5,"y":3.5,"v":1.6},{"x":1.5,"y":3.5,"v":1},{"x":2.5,"y":3.5,"v":1.5},{"x":3.5,"y":3.5,"v":2.3},{"x":4.5,"y":3.5,"v":2.7},{"x":5.5,"y":3.5,"v":4.6},{"x":6.5,"y":3.5,"v":7.8},{"x":7.5,"y":3.5,"v":5.7},{"x":8.5,"y":3.5,"v":5.2},{"x":9.5,"y":3.5,"v":5.9},{"x":0.5,"y":2.5,"v":1.3},{"x":1.5,"y":2.5,"v":1.4},{"x":2.5,"y":2.5,"v":2.1},{"x":3.5,"y":2.5,"v":3.2},{"x":4.5,"y":2.5,"v":4.6},{"x":5.5,"y":2.5,"v":6.3},{"x":6.5,"y":2.5,"v":7.6},{"x":7.5,"y":2.5,"v":5.7},{"x":8.5,"y":2.5,"v":5.7},{"x":9.5,"y":2.5,"v":6.3},{"x":0.5,"y":1.5,"v":1.9},{"x":1.5,"y":1.5,"v":3},{"x":2.5,"y":1.5,"v":4.5},{"x":3.5,"y":1.5,"v":5.2},{"x":4.5,"y":1.5,"v":6.4},{"x":5.5,"y":1.5,"v":7.5},{"x":6.5,"y":1.5,"v":7.5},{"x":7.5,"y":1.5,"v":5.2},{"x":8.5,"y":1.5,"v":6.2},{"x":9.5,"y":1.5,"v":8},{"x":0.5,"y":0.5,"v":1.9},{"x":1.5,"y":0.5,"v":2.7},{"x":2.5,"y":0.5,"v":4.2},{"x":3.5,"y":0.5,"v":5.8},{"x":4.5,"y":0.5,"v":7.8},{"x":5.5,"y":0.5,"v":8},{"x":6.5,"y":0.5,"v":6.1},{"x":7.5,"y":0.5,"v":5.2},{"x":8.5,"y":0.5,"v":6.6},{"x":9.5,"y":0.5,"v":7.3}],
"p23":[{"x":0.5,"y":9.5,"v":4.5},{"x":1.5,"y":9.5,"v":4.4},{"x":2.5,"y":9.5,"v":4.7},{"x":3.5,"y":9.5,"v":5.6},{"x":4.5,"y":9.5,"v":6},{"x":5.5,"y":9.5,"v":5.7},{"x":6.5,"y":9.5,"v":6.4},{"x":7.5,"y":9.5,"v":7},{"x":8.5,"y":9.5,"v":6.8},{"x":9.5,"y":9.5,"v":6},{"x":0.5,"y":8.5,"v":4.6},{"x":1.5,"y":8.5,"v":4.2},{"x":2.5,"y":8.5,"v":4.6},{"x":3.5,"y":8.5,"v":5.6},{"x":4.5,"y":8.5,"v":5.9},{"x":5.5,"y":8.5,"v":6.1},{"x":6.5,"y":8.5,"v":7},{"x":7.5,"y":8.5,"v":8},{"x":8.5,"y":8.5,"v":6.3},{"x":9.5,"y":8.5,"v":5.8},{"x":0.5,"y":7.5,"v":4.6},{"x":1.5,"y":7.5,"v":4.2},{"x":2.5,"y":7.5,"v":4.3},{"x":3.5,"y":7.5,"v":4.7},{"x":4.5,"y":7.5,"v":6.1},{"x":5.5,"y":7.5,"v":6},{"x":6.5,"y":7.5,"v":6.8},{"x":7.5,"y":7.5,"v":6.6},{"x":8.5,"y":7.5,"v":5.7},{"x":9.5,"y":7.5,"v":5.2},{"x":0.5,"y":6.5,"v":3.7},{"x":1.5,"y":6.5,"v":3.8},{"x":2.5,"y":6.5,"v":4.2},{"x":3.5,"y":6.5,"v":5.2},{"x":4.5,"y":6.5,"v":5.7},{"x":5.5,"y":6.5,"v":6.7},{"x":6.5,"y":6.5,"v":7.1},{"x":7.5,"y":6.5,"v":6.5},{"x":8.5,"y":6.5,"v":5.3},{"x":9.5,"y":6.5,"v":5},{"x":0.5,"y":5.5,"v":3},{"x":1.5,"y":5.5,"v":4.2},{"x":2.5,"y":5.5,"v":4.2},{"x":3.5,"y":5.5,"v":5.2},{"x":4.5,"y":5.5,"v":4.9},{"x":5.5,"y":5.5,"v":5.7},{"x":6.5,"y":5.5,"v":5.8},{"x":7.5,"y":5.5,"v":5.5},{"x":8.5,"y":5.5,"v":4.7},{"x":9.5,"y":5.5,"v":3.8},{"x":0.5,"y":4.5,"v":2.8},{"x":1.5,"y":4.5,"v":4.2},{"x":2.5,"y":4.5,"v":4.4},{"x":3.5,"y":4.5,"v":4},{"x":4.5,"y":4.5,"v":3.8},{"x":5.5,"y":4.5,"v":4.4},{"x":6.5,"y":4.5,"v":4.7},{"x":7.5,"y":4.5,"v":4.9},{"x":8.5,"y":4.5,"v":4.1},{"x":9.5,"y":4.5,"v":3.3},{"x":0.5,"y":3.5,"v":2.8},{"x":1.5,"y":3.5,"v":3.5},{"x":2.5,"y":3.5,"v":2.8},{"x":3.5,"y":3.5,"v":3},{"x":4.5,"y":3.5,"v":2.5},{"x":5.5,"y":3.5,"v":2.8},{"x":6.5,"y":3.5,"v":2.9},{"x":7.5,"y":3.5,"v":3.3},{"x":8.5,"y":3.5,"v":4.1},{"x":9.5,"y":3.5,"v":3.1},{"x":0.5,"y":2.5,"v":2.4},{"x":1.5,"y":2.5,"v":3.1},{"x":2.5,"y":2.5,"v":2.5},{"x":3.5,"y":2.5,"v":2.3},{"x":4.5,"y":2.5,"v":1.8},{"x":5.5,"y":2.5,"v":1.5},{"x":6.5,"y":2.5,"v":2.1},{"x":7.5,"y":2.5,"v":2.9},{"x":8.5,"y":2.5,"v":3.3},{"x":9.5,"y":2.5,"v":3},{"x":0.5,"y":1.5,"v":1.9},{"x":1.5,"y":1.5,"v":1.8},{"x":2.5,"y":1.5,"v":1.9},{"x":3.5,"y":1.5,"v":2},{"x":4.5,"y":1.5,"v":1},{"x":5.5,"y":1.5,"v":0.9},{"x":6.5,"y":1.5,"v":1},{"x":7.5,"y":1.5,"v":2},{"x":8.5,"y":1.5,"v":1.7},{"x":9.5,"y":1.5,"v":2.1},{"x":0.5,"y":0.5,"v":1.5},{"x":1.5,"y":0.5,"v":1.8},{"x":2.5,"y":0.5,"v":1.6},{"x":3.5,"y":0.5,"v":1.2},{"x":4.5,"y":0.5,"v":0.5},{"x":5.5,"y":0.5,"v":0.1},{"x":6.5,"y":0.5,"v":0.4},{"x":7.5,"y":0.5,"v":0.9},{"x":8.5,"y":0.5,"v":1.5},{"x":9.5,"y":0.5,"v":1.3}],
"s0":[{"x":1.5,"y":9.5,"x2":1.5,"y2":8.5,"n":1},{"x":1.5,"y":8.5,"x2":0.5,"y2":8.5,"n":1},{"x":0.5,"y":8.5,"x2":0.5,"y2":7.5,"n":2},{"x":0.5,"y":7.5,"x2":1.5,"y2":7.5,"n":1},{"x":0.5,"y":7.5,"x2":0.5,"y2":5.5,"n":2},{"x":0.5,"y":5.5,"x2":1.5,"y2":5.5,"n":2},{"x":0.5,"y":5.5,"x2":0.5,"y2":4.5,"n":2},{"x":1.5,"y":5.5,"x2":1.5,"y2":6.5,"n":2},{"x":1.5,"y":6.5,"x2":4.5,"y2":6.5,"n":3},{"x":4.5,"y":6.5,"x2":4.5,"y2":7.5,"n":1},{"x":4.5,"y":7.5,"x2":3.5,"y2":7.5,"n":2},{"x":3.5,"y":7.5,"x2":3.5,"y2":8.5,"n":1},{"x":3.5,"y":8.5,"x2":4.5,"y2":8.5,"n":1}],
"s1":[{"x":4.5,"y":6.5,"x2":6.5,"y2":6.5,"n":1},{"x":6.5,"y":6.5,"x2":9.5,"y2":6.5,"n":3},{"x":6.5,"y":6.5,"x2":6.5,"y2":7.5,"n":2},{"x":6.5,"y":7.5,"x2":8.5,"y2":7.5,"n":1},{"x":8.5,"y":7.5,"x2":8.5,"y2":6.5,"n":2},{"x":5.5,"y":6.5,"x2":5.5,"y2":5.5,"n":2},{"x":4.5,"y":5.5,"x2":6.5,"y2":5.5,"n":1},{"x":4.5,"y":5.5,"x2":4.5,"y2":4.5,"n":2},{"x":4.5,"y":4.5,"x2":5.5,"y2":4.5,"n":3}],
"s2":[{"x":9.5,"y":3.5,"x2":7.5,"y2":3.5,"n":1},{"x":7.5,"y":3.5,"x2":6.5,"y2":3.5,"n":3},{"x":6.5,"y":3.5,"x2":5.5,"y2":3.5,"n":1},{"x":5.5,"y":3.5,"x2":5.5,"y2":2.5,"n":1},{"x":5.5,"y":2.5,"x2":6.5,"y2":2.5,"n":3},{"x":6.5,"y":2.5,"x2":7.5,"y2":2.5,"n":2},{"x":6.5,"y":4.5,"x2":6.5,"y2":1.5,"n":3},{"x":7.5,"y":3.5,"x2":7.5,"y2":4.5,"n":2}],
"s3":[{"x":6.5,"y":8.5,"x2":7.5,"y2":8.5,"n":3},{"x":7.5,"y":8.5,"x2":7.5,"y2":6.5,"n":2},{"x":6.5,"y":7.5,"x2":7.5,"y2":7.5,"n":1},{"x":6.5,"y":7.5,"x2":6.5,"y2":6.5,"n":1},{"x":5.5,"y":6.5,"x2":6.5,"y2":6.5,"n":3},{"x":6.5,"y":6.5,"x2":7.5,"y2":6.5,"n":1},{"x":5.5,"y":6.5,"x2":5.5,"y2":5.5,"n":3},{"x":5.5,"y":5.5,"x2":6.5,"y2":5.5,"n":3},{"x":6.5,"y":5.5,"x2":6.5,"y2":6.5,"n":3}],
"v0":[{"x":1.5,"y":9.5,"k":"start"},{"x":1.5,"y":8.5,"k":"step"},{"x":0.5,"y":8.5,"k":"step"},{"x":0.5,"y":7.5,"k":"step"},{"x":1.5,"y":7.5,"k":"step"},{"x":0.5,"y":6.5,"k":"step"},{"x":0.5,"y":5.5,"k":"step"},{"x":1.5,"y":5.5,"k":"step"},{"x":0.5,"y":4.5,"k":"step"},{"x":1.5,"y":6.5,"k":"step"},{"x":2.5,"y":6.5,"k":"step"},{"x":3.5,"y":6.5,"k":"step"},{"x":4.5,"y":6.5,"k":"step"},{"x":4.5,"y":7.5,"k":"step"},{"x":3.5,"y":7.5,"k":"step"},{"x":3.5,"y":8.5,"k":"step"},{"x":4.5,"y":8.5,"k":"step"}],
"v1":[{"x":4.5,"y":6.5,"k":"start"},{"x":5.5,"y":6.5,"k":"step"},{"x":6.5,"y":6.5,"k":"hub"},{"x":7.5,"y":6.5,"k":"step"},{"x":8.5,"y":6.5,"k":"hub"},{"x":9.5,"y":6.5,"k":"step"},{"x":6.5,"y":7.5,"k":"step"},{"x":7.5,"y":7.5,"k":"step"},{"x":8.5,"y":7.5,"k":"step"},{"x":4.5,"y":5.5,"k":"step"},{"x":5.5,"y":5.5,"k":"step"},{"x":6.5,"y":5.5,"k":"step"},{"x":4.5,"y":4.5,"k":"step"},{"x":5.5,"y":4.5,"k":"step"}],
"v2":[{"x":9.5,"y":3.5,"k":"start"},{"x":8.5,"y":3.5,"k":"step"},{"x":7.5,"y":3.5,"k":"hub"},{"x":6.5,"y":3.5,"k":"hub"},{"x":5.5,"y":3.5,"k":"step"},{"x":6.5,"y":4.5,"k":"step"},{"x":7.5,"y":4.5,"k":"step"},{"x":5.5,"y":2.5,"k":"hub"},{"x":6.5,"y":2.5,"k":"hub"},{"x":7.5,"y":2.5,"k":"step"},{"x":6.5,"y":1.5,"k":"step"}],
"v3":[{"x":7.5,"y":6.5,"k":"start"},{"x":6.5,"y":8.5,"k":"step"},{"x":7.5,"y":8.5,"k":"step"},{"x":6.5,"y":7.5,"k":"step"},{"x":7.5,"y":7.5,"k":"step"},{"x":5.5,"y":6.5,"k":"step"},{"x":6.5,"y":6.5,"k":"hub"},{"x":5.5,"y":5.5,"k":"step"},{"x":6.5,"y":5.5,"k":"step"}]
},
"concat":[
{"width":206,"height":151,"title":{"text":"(example 0)","dx":83},"layer":[
{"data":{"name":"p00"},"mark":"rect","encoding":{"x":{"field":"x","type":"quantitative","scale":{"domain":[0,10],"nice":false},"axis":{"values":[0,2,4,6,8,10],"tickCount":6,"labels":false,"title":"expert","titleFontSize":13,"titleX":48,"titleY":-154}},"y":{"field":"y","type":"quantitative","scale":{"domain":[0,10],"nice":false},"axis":{"values":[0,2,4,6,8,10],"tickCount":6,"labelOverlap":false,"title":"V*","titleFontSize":19,"titleX":36,"titleY":-6}},"color":{"field":"v","type":"quantitative","scale":{"domain":[0,1,2,3,4,5,6,7,8],"range":["#f7fbff","#deebf7","#c6dbef","#9ecae1","#6baed6","#4292c6","#2171b5","#08519c","#08306b"]},"legend":null}}},
{"data":{"name":"s0"},"mark":"rule","encoding":{"x":{"field":"x","type":"quantitative"},"y":{"field":"y","type":"quantitative"},"x2":{"field":"x2"},"y2":{"field":"y2"},"strokeWidth":{"field":"n","type":"quantitative","scale":{"domain":[1,3],"range":[0.9,2.6]},"legend":null}}},
{"data":{"name":"v0"},"mark":"point","encoding":{"x":{"field":"x","type":"quantitative"},"y":{"field":"y","type":"quantitative"},"shape":{"field":"k","type":"nominal","scale":{"domain":["start","step","hub"],"range":["square","circle","circle"]},"legend":null},"size":{"field":"k","type":"nominal","scale":{"domain":["start","step","hub"],"range":[42,18,30]},"legend":null},"fill":{"field":"k","type":"nominal","scale":{"domain":["start","step","hub"],"range":["#e00000","#a80000","#200000"]},"legend":null}}}
]},
{"width":206,"height":151,"title":{"text":"(example 1)","dx":83},"layer":[
{"data":{"name":"p01"},"mark":"rect","encoding":{"x":{"field":"x","type":"quantitative","scale":{"domain":[0,10],"nice":false},"axis":{"values":[0,2,4,6,8,10],"tickCount":6,"labels":false,"title":"expert","titleFontSize":13,"titleX":48,"titleY":-154}},"y":{"field":"y","type":"quantitative","scale":{"domain":[0,10],"nice":false},"axis":{"values":[0,2,4,6,8,10],"tickCount":6,"labels":false,"title":"V*","titleFontSize":19,"titleX":36,"titleY":-6}},"color":{"field":"v","type":"quantitative","scale":{"domain":[0,1,2,3,4,5,6,7,8],"range":["#f7fbff","#deebf7","#c6dbef","#9ecae1","#6baed6","#4292c6","#2171b5","#08519c","#08306b"]},"legend":null}}},
{"data":{"name":"s1"},"mark":"rule","encoding":{"x":{"field":"x","type":"quantitative"},"y":{"field":"y","type":"quantitative"},"x2":{"field":"x2"},"y2":{"field":"y2"},"strokeWidth":{"field":"n","type":"quantitative","scale":{"domain":[1,3],"range":[0.9,2.6]},"legend":null}}},
{"data":{"name":"v1"},"mark":"point","encoding":{"x":{"field":"x","type":"quantitative"},"y":{"field":"y","type":"quantitative"},"shape":{"field":"k","type":"nominal","scale":{"domain":["start","step","hub"],"range":["square","circle","circle"]},"legend":null},"size":{"field":"k","type":"nominal","scale":{"domain":["start","step","hub"],"range":[42,18,30]},"legend":null},"fill":{"field":"k","type":"nominal","scale":{"domain":["start","step","hub"],"range":["#e00000","#a80000","#200000"]},"legend":null}}}
]},
{"width":206,"height":151,"title":{"text":"(example 2)","dx":83},"layer":[
{"data":{"name":"p02"},"mark":"rect","encoding":{"x":{"field":"x","type":"quantitative","scale":{"domain":[0,10],"nice":false},"axis":{"values":[0,2,4,6,8,10],"tickCount":6,"labels":false,"title":"expert","titleFontSize":13,"titleX":48,"titleY":-154}},"y":{"field":"y","type":"quantitative","scale":{"domain":[0,10],"nice":false},"axis":{"values":[0,2,4,6,8,10],"tickCount":6,"labels":false,"title":"V*","titleFontSize":19,"titleX":36,"titleY":-6}},"color":{"field":"v","type":"quantitative","scale":{"domain":[0,1,2,3,4,5,6,7,8],"range":["#f7fbff","#deebf7","#c6dbef","#9ecae1","#6baed6","#4292c6","#2171b5","#08519c","#08306b"]},"legend":null}}},
{"data":{"name":"s2"},"mark":"rule","encoding":{"x":{"field":"x","type":"quantitative"},"y":{"field":"y","type":"quantitative"},"x2":{"field":"x2"},"y2":{"field":"y2"},"strokeWidth":{"field":"n","type":"quantitative","scale":{"domain":[1,3],"range":[0.9,2.6]},"legend":null}}},
{"data":{"name":"v2"},"mark":"point","encoding":{"x":{"field":"x","type":"quantitative"},"y":{"field":"y","type":"quantitative"},"shape":{"field":"k","type":"nominal","scale":{"domain":["start","step","hub"],"range":["square","circle","circle"]},"legend":null},"size":{"field":"k","type":"nominal","scale":{"domain":["start","step","hub"],"range":[42,18,30]},"legend":null},"fill":{"field":"k","type":"nominal","scale":{"domain":["start","step","hub"],"range":["#e00000","#a80000","#200000"]},"legend":null}}}
]},
{"width":206,"height":151,"title":{"text":"(example 3)","dx":83},"layer":[
{"data":{"name":"p03"},"mark":"rect","encoding":{"x":{"field":"x","type":"quantitative","scale":{"domain":[0,10],"nice":false},"axis":{"values":[0,2,4,6,8,10],"tickCount":6,"labels":false,"title":"expert","titleFontSize":13,"titleX":48,"titleY":-154}},"y":{"field":"y","type":"quantitative","scale":{"domain":[0,10],"nice":false},"axis":{"values":[0,2,4,6,8,10],"tickCount":6,"labels":false,"title":"V*","titleFontSize":19,"titleX":36,"titleY":-6}},"color":{"field":"v","type":"quantitative","scale":{"domain":[0,1,2,3,4,5,6,7,8],"range":["#f7fbff","#deebf7","#c6dbef","#9ecae1","#6baed6","#4292c6","#2171b5","#08519c","#08306b"]},"legend":null}}},
{"data":{"name":"s3"},"mark":"rule","encoding":{"x":{"field":"x","type":"quantitative"},"y":{"field":"y","type":"quantitative"},"x2":{"field":"x2"},"y2":{"field":"y2"},"strokeWidth":{"field":"n","type":"quantitative","scale":{"domain":[1,3],"range":[0.9,2.6]},"legend":null}}},
{"data":{"name":"v3"},"mark":"point","encoding":{"x":{"field":"x","type":"quantitative"},"y":{"field":"y","type":"quantitative"},"shape":{"field":"k","type":"nominal","scale":{"domain":["start","step","hub"],"range":["square","circle","circle"]},"legend":null},"size":{"field":"k","type":"nominal","scale":{"domain":["start","step","hub"],"range":[42,18,30]},"legend":null},"fill":{"field":"k","type":"nominal","scale":{"domain":["start","step","hub"],"range":["#e00000","#a80000","#200000"]},"legend":null}}}
]},
{"width":206,"height":151,"title":{"text":"(example 0)","dx":99},"data":{"name":"p10"},"mark":"rect","encoding":{"x":{"field":"x","type":"quantitative","scale":{"domain":[0,10],"nice":false},"axis":{"values":[0,2,4,6,8,10],"labels":false,"title":"flat learner","titleFontSize":13,"titleX":31,"titleY":-154}},"y":{"field":"y","type":"quantitative","scale":{"domain":[0,10],"nice":false},"axis":{"values":[0,2,4,6,8,10],"title":"V*","titleFontSize":19,"titleX":20,"titleY":-6}},"color":{"field":"v","type":"quantitative","scale":{"domain":[0,1,2,3,4,5,6,7,8],"range":["#f7fbff","#deebf7","#c6dbef","#9ecae1","#6baed6","#4292c6","#2171b5","#08519c","#08306b"]},"legend":null}}},
{"width":206,"height":151,"title":{"text":"(example 1)","dx":99},"data":{"name":"p11"},"mark":"rect","encoding":{"x":{"field":"x","type":"quantitative","scale":{"domain":[0,10],"nice":false},"axis":{"values":[0,2,4,6,8,10],"labels":false,"title":"flat learner","titleFontSize":13,"titleX":31,"titleY":-154}},"y":{"field":"y","type":"quantitative","scale":{"domain":[0,10],"nice":false},"axis":{"values":[0,2,4,6,8,10],"labels":false,"title":"V*","titleFontSize":19,"titleX":20,"titleY":-6}},"color":{"field":"v","type":"quantitative","scale":{"domain":[0,1,2,3,4,5,6,7,8],"range":["#f7fbff","#deebf7","#c6dbef","#9ecae1","#6baed6","#4292c6","#2171b5","#08519c","#08306b"]},"legend":null}}},
{"width":206,"height":151,"title":{"text":"(example 2)","dx":99},"data":{"name":"p12"},"mark":"rect","encoding":{"x":{"field":"x","type":"quantitative","scale":{"domain":[0,10],"nice":false},"axis":{"values":[0,2,4,6,8,10],"labels":false,"title":"flat learner","titleFontSize":13,"titleX":31,"titleY":-154}},"y":{"field":"y","type":"quantitative","scale":{"domain":[0,10],"nice":false},"axis":{"values":[0,2,4,6,8,10],"labels":false,"title":"V*","titleFontSize":19,"titleX":20,"titleY":-6}},"color":{"field":"v","type":"quantitative","scale":{"domain":[0,1,2,3,4,5,6,7,8],"range":["#f7fbff","#deebf7","#c6dbef","#9ecae1","#6baed6","#4292c6","#2171b5","#08519c","#08306b"]},"legend":null}}},
{"width":206,"height":151,"title":{"text":"(example 3)","dx":99},"data":{"name":"p13"},"mark":"rect","encoding":{"x":{"field":"x","type":"quantitative","scale":{"domain":[0,10],"nice":false},"axis":{"values":[0,2,4,6,8,10],"labels":false,"title":"flat learner","titleFontSize":13,"titleX":31,"titleY":-154}},"y":{"field":"y","type":"quantitative","scale":{"domain":[0,10],"nice":false},"axis":{"values":[0,2,4,6,8,10],"labels":false,"title":"V*","titleFontSize":19,"titleX":20,"titleY":-6}},"color":{"field":"v","type":"quantitative","scale":{"domain":[0,1,2,3,4,5,6,7,8],"range":["#f7fbff","#deebf7","#c6dbef","#9ecae1","#6baed6","#4292c6","#2171b5","#08519c","#08306b"]},"legend":null}}},
{"width":206,"height":151,"title":{"text":"(example 0)","dx":111},"data":{"name":"p20"},"mark":"rect","encoding":{"x":{"field":"x","type":"quantitative","scale":{"domain":[0,10],"nice":false},"axis":{"values":[0,2,4,6,8,10],"title":"factorial learner","titleFontSize":13,"titleX":19,"titleY":-154}},"y":{"field":"y","type":"quantitative","scale":{"domain":[0,10],"nice":false},"axis":{"values":[0,2,4,6,8,10],"title":"V*","titleFontSize":19,"titleX":8,"titleY":-6}},"color":{"field":"v","type":"quantitative","scale":{"domain":[0,1,2,3,4,5,6,7,8],"range":["#f7fbff","#deebf7","#c6dbef","#9ecae1","#6baed6","#4292c6","#2171b5","#08519c","#08306b"]},"legend":null}}},
{"width":206,"height":151,"title":{"text":"(example 1)","dx":111},"data":{"name":"p21"},"mark":"rect","encoding":{"x":{"field":"x","type":"quantitative","scale":{"domain":[0,10],"nice":false},"axis":{"values":[0,2,4,6,8,10],"title":"factorial learner","titleFontSize":13,"titleX":19,"titleY":-154}},"y":{"field":"y","type":"quantitative","scale":{"domain":[0,10],"nice":false},"axis":{"values":[0,2,4,6,8,10],"labels":false,"title":"V*","titleFontSize":19,"titleX":8,"titleY":-6}},"color":{"field":"v","type":"quantitative","scale":{"domain":[0,1,2,3,4,5,6,7,8],"range":["#f7fbff","#deebf7","#c6dbef","#9ecae1","#6baed6","#4292c6","#2171b5","#08519c","#08306b"]},"legend":null}}},
{"width":206,"height":151,"title":{"text":"(example 2)","dx":111},"data":{"name":"p22"},"mark":"rect","encoding":{"x":{"field":"x","type":"quantitative","scale":{"domain":[0,10],"nice":false},"axis":{"values":[0,2,4,6,8,10],"title":"factorial learner","titleFontSize":13,"titleX":19,"titleY":-154}},"y":{"field":"y","type":"quantitative","scale":{"domain":[0,10],"nice":false},"axis":{"values":[0,2,4,6,8,10],"labels":false,"title":"V*","titleFontSize":19,"titleX":8,"titleY":-6}},"color":{"field":"v","type":"quantitative","scale":{"domain":[0,1,2,3,4,5,6,7,8],"range":["#f7fbff","#deebf7","#c6dbef","#9ecae1","#6baed6","#4292c6","#2171b5","#08519c","#08306b"]},"legend":null}}},
{"width":206,"height":151,"title":{"text":"(example 3)","dx":111},"data":{"name":"p23"},"mark":"rect","encoding":{"x":{"field":"x","type":"quantitative","scale":{"domain":[0,10],"nice":false},"axis":{"values":[0,2,4,6,8,10],"title":"factorial learner","titleFontSize":13,"titleX":19,"titleY":-154}},"y":{"field":"y","type":"quantitative","scale":{"domain":[0,10],"nice":false},"axis":{"values":[0,2,4,6,8,10],"labels":false,"title":"V*","titleFontSize":19,"titleX":8,"titleY":-6}},"color":{"field":"v","type":"quantitative","scale":{"domain":[0,1,2,3,4,5,6,7,8],"range":["#f7fbff","#deebf7","#c6dbef","#9ecae1","#6baed6","#4292c6","#2171b5","#08519c","#08306b"]},"legend":null}}}
]}
